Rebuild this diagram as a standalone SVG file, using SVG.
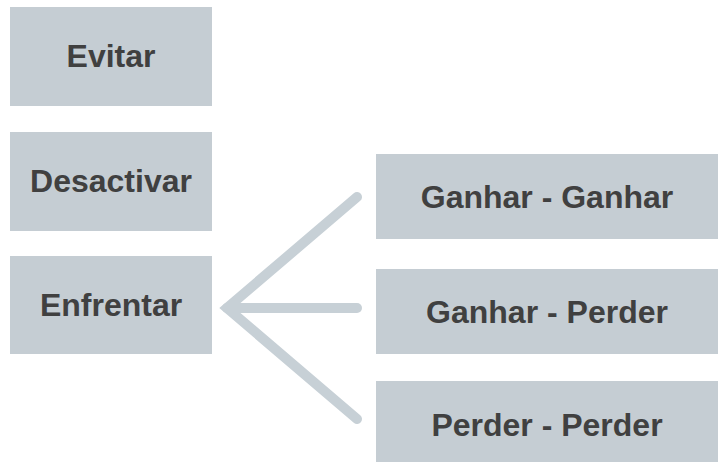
<svg xmlns="http://www.w3.org/2000/svg" width="718" height="462" viewBox="0 0 718 462">
  <style>
    .box { fill: #c5cdd3; }
    .lbl { font-family: "Liberation Sans", Arial, sans-serif; font-weight: bold; font-size: 32px; fill: #404040; text-anchor: middle; }
    .conn { fill: none; stroke: #c7d0d6; stroke-width: 10; stroke-linecap: round; stroke-linejoin: miter; }
  </style>
  <rect width="718" height="462" fill="#ffffff"/>

  <!-- fan of connectors from Enfrentar to the three outcomes -->
  <g id="connectors">
    <polyline class="conn" points="357,197 227,308 357,419"/>
    <line class="conn" x1="227" y1="308" x2="357" y2="308"/>
  </g>

  <g id="evitar">
    <rect class="box" x="10" y="7" width="202" height="99"/>
    <text class="lbl" x="111" y="67">Evitar</text>
  </g>
  <g id="desactivar">
    <rect class="box" x="10" y="132" width="202" height="99"/>
    <text class="lbl" x="111" y="192">Desactivar</text>
  </g>
  <g id="enfrentar">
    <rect class="box" x="10" y="256" width="202" height="98"/>
    <text class="lbl" x="111" y="316">Enfrentar</text>
  </g>

  <g id="ganhar-ganhar">
    <rect class="box" x="376" y="154" width="342" height="85"/>
    <text class="lbl" x="547" y="208">Ganhar - Ganhar</text>
  </g>
  <g id="ganhar-perder">
    <rect class="box" x="376" y="269" width="342" height="85"/>
    <text class="lbl" x="547" y="323">Ganhar - Perder</text>
  </g>
  <g id="perder-perder">
    <rect class="box" x="376" y="381" width="342" height="85"/>
    <text class="lbl" x="547" y="436">Perder - Perder</text>
  </g>
</svg>
